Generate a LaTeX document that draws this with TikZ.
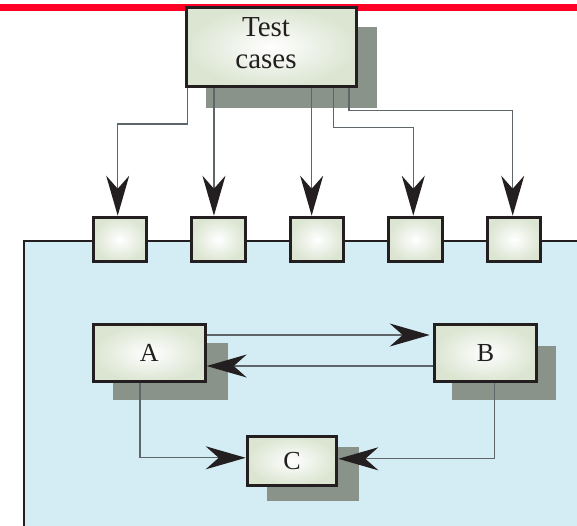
\documentclass[tikz,border=0pt]{standalone}
\usepackage{fontspec}
\setmainfont{Liberation Serif}
\usetikzlibrary{arrows.meta,calc,backgrounds}
\definecolor{redbar}{HTML}{FF0027}
\definecolor{bluebg}{HTML}{D4EDF4}
\definecolor{shadowc}{HTML}{8A9389}
\definecolor{boxedge}{HTML}{231F20}
\definecolor{boxouter}{HTML}{DCE5D2}
\definecolor{linec}{HTML}{5F6669}
\begin{document}
\begin{tikzpicture}[x=1pt,y=-1pt,
  bx/.style={draw=boxedge, line width=3pt, inner sep=0pt, inner color=white, outer color=boxouter,
    font=\fontsize{26}{30}\selectfont, text=boxedge},
  conn/.style={draw=linec, line width=1.3pt, -{Stealth[length=40pt,width=23pt,inset=13pt,color=boxedge]}},
  shd/.style={fill=shadowc}]
\useasboundingbox (0,0) rectangle (577,525);
\clip (0,0) rectangle (577,525);

% nodes
\node[bx, minimum width=169.7pt, minimum height=79pt] (tc) at (271.3,47) {};
\node[align=center, inner sep=0pt, text=boxedge, font=\fontsize{29}{32}\selectfont]
  (tct) at (266,43) {Test\\cases};
\node[bx, minimum width=53.7pt, minimum height=44.6pt] (s1) at (120,239.5) {};
\node[bx, minimum width=53.7pt, minimum height=44.6pt] (s2) at (218.3,239.5) {};
\node[bx, minimum width=53.7pt, minimum height=44.6pt] (s3) at (317,239.5) {};
\node[bx, minimum width=53.7pt, minimum height=44.6pt] (s4) at (415.3,239.5) {};
\node[bx, minimum width=53.7pt, minimum height=44.6pt] (s5) at (514,239.5) {};
\node[bx, minimum width=112pt, minimum height=57pt] (A) at (149.2,353.3) {A};
\node[bx, minimum width=102.6pt, minimum height=57pt] (B) at (485.5,353.3) {B};
\node[bx, minimum width=89.6pt, minimum height=48.7pt] (C) at (292,460.8) {C};

\begin{scope}[on background layer]
  \fill[redbar] (0,4) rectangle (577,10.5);
  \fill[bluebg] (24,241) rectangle (600,600);
  \draw[boxedge, line width=2.5pt] (24,600) -- (24,241) -- (600,241);
  \fill[shd] ($(tc.south west)+(21,20)$) rectangle ($(tc.north east)+(19.5,21)$);
  \fill[shd] ($(A.south west)+(21.5,16.7)$) rectangle ($(A.north east)+(21,20)$);
  \fill[shd] ($(B.south west)+(19,16.7)$) rectangle ($(B.north east)+(17.7,22.4)$);
  \fill[shd] ($(C.south west)+(21,14.3)$) rectangle ($(C.north east)+(20.7,11.7)$);
\end{scope}

% connectors from test cases
\coordinate (o1) at ($(tc.south west)+(2.7,0)$);
\coordinate (o2) at ($(tc.south west)+(29,0)$);
\coordinate (o3) at ($(tc.south west)+(126.7,0)$);
\coordinate (o4) at ($(tc.south west)+(148.7,0)$);
\coordinate (o5) at ($(tc.south west)+(164,0)$);
\draw[conn] (o1) -- ++(0,36) -| ($(s1.north)+(-2.3,0)$);
\draw[conn] (o2) -- (o2 |- s2.north);
\draw[conn] (o3) -- (o3 |- s3.north);
\draw[conn] (o4) -- ++(0,39.7) -| ($(s4.north)+(-2,0)$);
\draw[conn] (o5) -- ++(0,22.7) -| ($(s5.north)+(-1.3,0)$);

% inner connectors
\draw[conn] ($(A.east)+(0,-18.3)$) -- ($(B.west)+(-3,-18.3)$);
\draw[conn] ($(B.west)+(0,12.7)$) -- ($(A.east)+(0,12.7)$);
\draw[conn] ($(A.south)+(-9.2,0)$) |- ($(C.west)+(0,-3)$);
\draw[conn] ($(B.south)+(8.8,0)$) |- ($(C.east)+(0,-2)$);
\end{tikzpicture}
\end{document}
